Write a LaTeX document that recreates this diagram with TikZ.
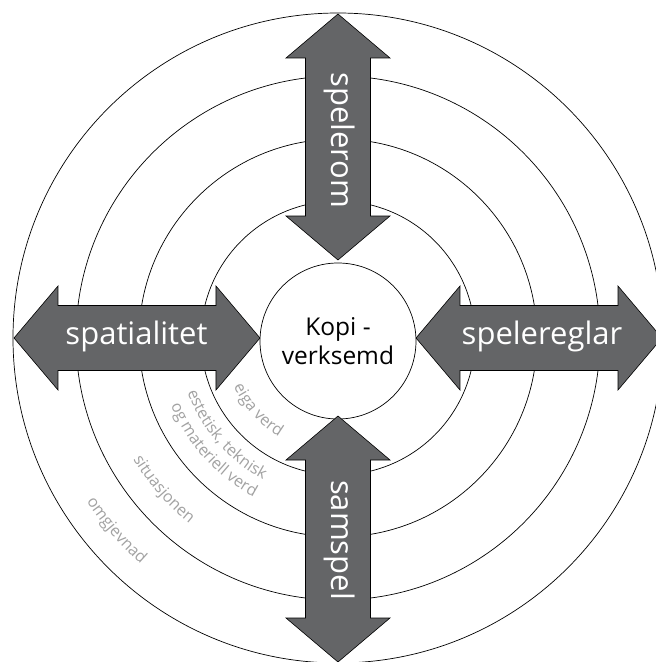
\documentclass[tikz,border=0pt]{standalone}
\usepackage{fontspec}
\setmainfont{Open Sans}
\usetikzlibrary{decorations.text}

\definecolor{arrowgray}{HTML}{646567}
\definecolor{ringgray}{HTML}{A2A2A2}
\newcommand\ringfont{\color{ringgray}\fontsize{16}{16}\selectfont}

\begin{document}
\begin{tikzpicture}[x=1pt,y=1pt,
   ring/.style={draw=black,line width=0.7pt},
   bigarrow/.style={draw=black,line width=0.6pt,fill=arrowgray},
   arrowlabel/.style={text=white,anchor=base,inner sep=0pt,font=\fontsize{31}{31}\selectfont},
   ringlabel/.style={decorate,decoration={text along path,text align=center,text={|\ringfont|#1}}}]
   \useasboundingbox (-338,-324) rectangle (318,338);
   \fill[white] (-338,-324) rectangle (318,338);
   \clip (-338,-324) rectangle (318,338);
   % rings
   \foreach \r in {137,199,262,325}
      \draw[ring] (0,0) circle (\r);
   \node[circle,draw,line width=0.7pt,fill=white,minimum size=156pt,inner sep=0pt,align=center,
         font=\fontsize{24.5}{29}\selectfont] (kopi) at (0,-3) {Kopi -\\verksemd};
   % labels in the rings
   \path[ringlabel={eiga verd}] (185:115pt) arc[start angle=185,end angle=259,radius=115pt];
   \path[ringlabel={estetisk, teknisk}] (180:160pt) arc[start angle=180,end angle=262,radius=160pt];
   \path[ringlabel={og materiell verd}] (180:180pt) arc[start angle=180,end angle=264,radius=180pt];
   \path[ringlabel={situasjonen}] (190:238pt) arc[start angle=190,end angle=252,radius=238pt];
   \path[ringlabel={omgjevnad}] (192:300pt) arc[start angle=192,end angle=250,radius=300pt];
   % arrows
   \foreach \a in {0,90,180,270}
      \draw[bigarrow,rotate=\a] (78,0) -- (122,52) -- (122,32.5) -- (280,32.5) -- (280,52)
         -- (324,0) -- (280,-52) -- (280,-32.5) -- (122,-32.5) -- (122,-52) -- cycle;
   \node[arrowlabel,rotate=-90] (rom) at (-6.5,197.5) {spelerom};
   \node[arrowlabel] (reglar) at (204,-6.5) {spelereglar};
   \node[arrowlabel] (spatial) at (-201.5,-6.5) {spatialitet};
   \node[arrowlabel,rotate=-90] (samspel) at (-6.5,-202) {samspel};
\end{tikzpicture}
\end{document}
